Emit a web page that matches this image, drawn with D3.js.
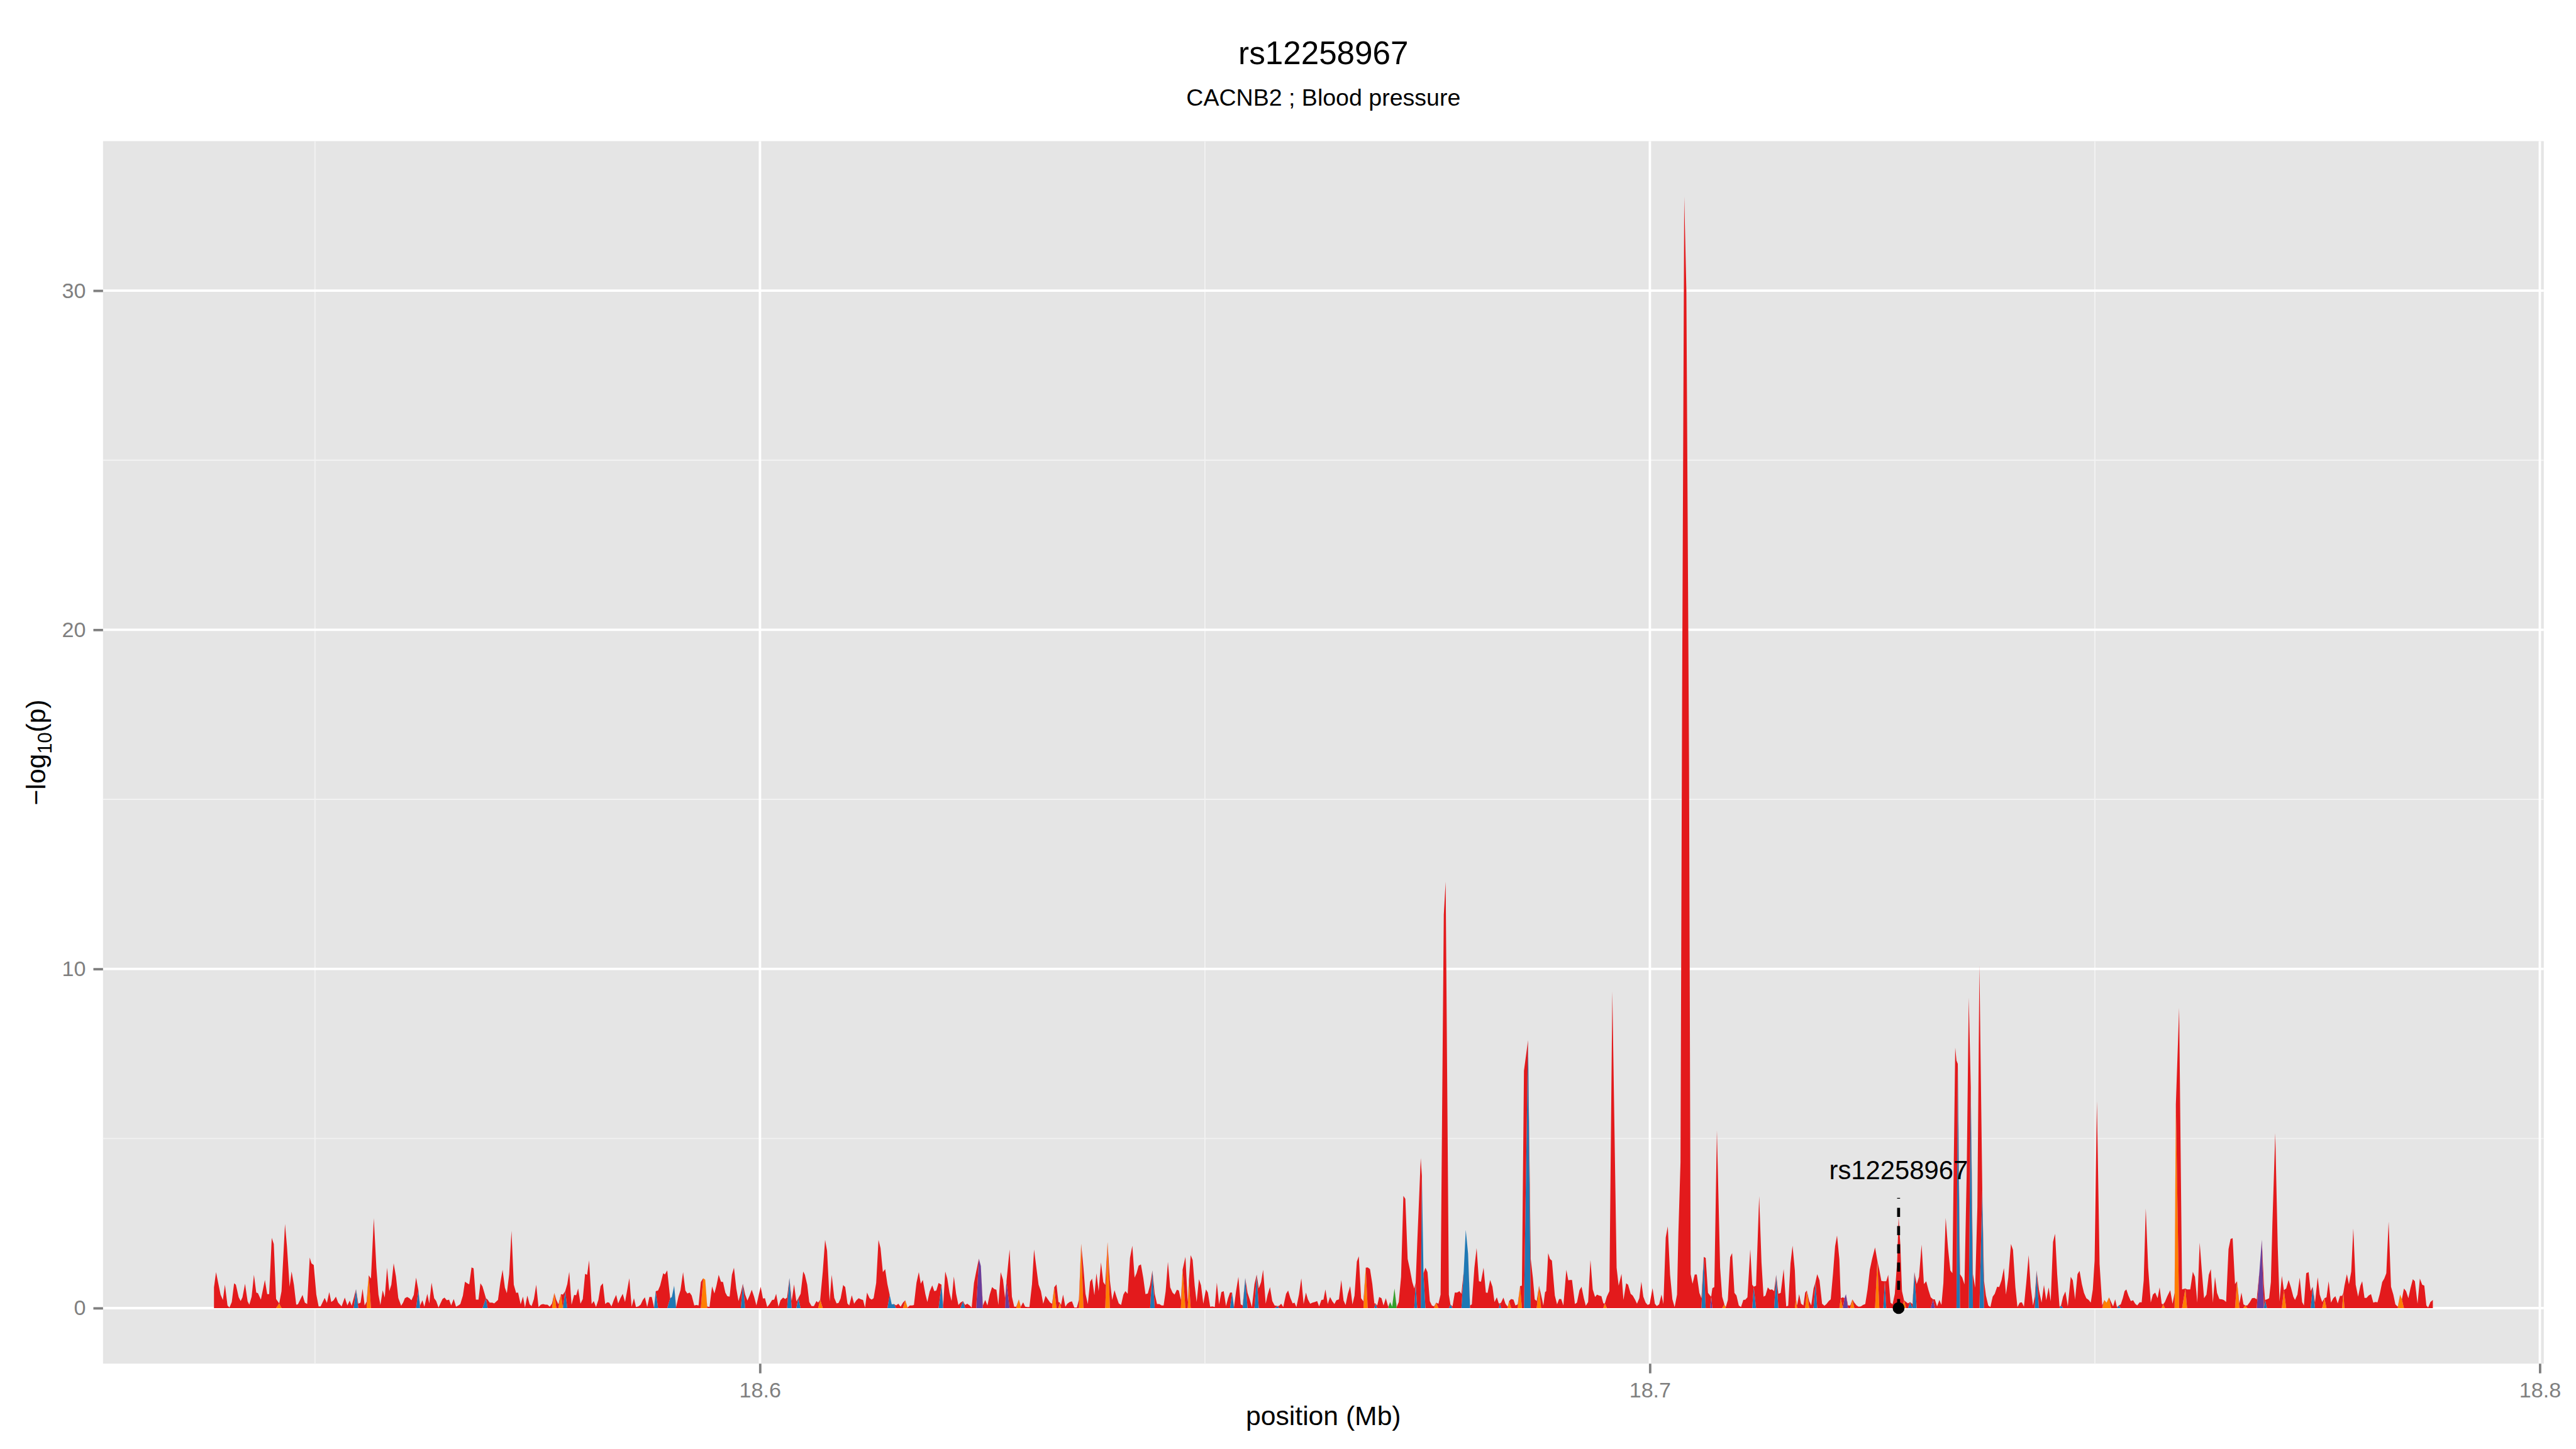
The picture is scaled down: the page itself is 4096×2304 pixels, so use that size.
<!DOCTYPE html>
<html>
<head>
<meta charset="utf-8">
<script src="https://cdn.jsdelivr.net/npm/d3@7"></script>
<style>
  html, body { margin: 0; padding: 0; background: #ffffff; }
  svg { display: block; }
</style>
</head>
<body>
<svg id="chart" width="4096" height="2304" viewBox="0 0 4800 2700"></svg>
<script>
// ---------------- DATA ----------------
const TITLE = "rs12258967";
const SUBTITLE = "CACNB2 ; Blood pressure";
const X_LABEL = "position (Mb)";
const REGION_START_MB = 18.5;          // positions below are kb above this

const leadSnpName = "rs12258967";
const leadSnpMb = 18.727947;
const leadSnpLogP = 0;

// SNP positions (kb above 18.5 Mb)
const posKb = [
38.65,38.88,39.39,39.65,39.88,40.17,40.39,40.65,40.91,41.11,
41.43,41.65,41.85,42.14,42.43,42.62,42.88,43.14,43.40,43.59,
43.92,44.37,44.63,44.85,45.14,45.37,45.63,45.98,46.24,46.63,
46.85,47.15,47.37,47.63,47.89,48.08,48.60,48.86,49.12,49.41,
49.60,49.86,50.15,50.41,50.63,51.09,51.34,51.60,51.83,52.09,
52.35,52.60,52.99,53.35,53.64,53.90,54.12,54.35,54.61,54.87,
55.12,55.35,55.58,55.80,56.03,56.29,56.61,56.90,57.13,57.35,
57.61,57.84,58.10,58.35,58.58,58.84,59.10,59.36,59.68,59.90,
60.10,60.36,60.61,60.84,61.10,61.36,61.62,61.81,62.07,62.29,
62.62,62.84,63.10,63.39,63.62,63.88,64.33,64.55,64.81,65.07,
65.30,65.59,65.85,66.11,66.33,66.62,66.85,67.11,67.33,67.59,
67.82,68.08,68.37,68.59,68.82,69.21,69.40,69.63,69.92,70.14,
70.56,70.82,71.08,71.34,71.56,71.82,72.08,72.34,72.60,72.82,
73.11,73.37,73.60,73.86,74.12,74.34,74.60,74.86,75.12,75.38,
75.63,75.89,76.12,76.38,76.64,76.89,77.12,77.35,77.64,77.86,
78.12,78.35,78.57,78.83,79.12,79.35,79.57,79.83,80.09,80.35,
80.58,80.80,81.09,81.32,81.58,81.84,82.09,82.35,82.61,82.84,
83.06,83.32,83.58,83.84,84.07,84.32,84.58,84.84,85.06,85.32,
85.58,85.84,86.07,86.33,86.59,86.84,87.07,87.33,87.58,87.84,
88.10,
88.29,88.55,88.78,89.13,89.32,89.58,89.91,90.10,90.36,90.58,
90.84,91.07,91.36,91.62,91.84,92.10,92.33,92.62,92.85,93.10,
93.36,93.62,93.85,94.07,94.33,94.62,94.88,95.11,95.36,95.62,
95.85,96.11,96.33,96.59,96.85,97.08,97.34,97.59,97.85,98.08,
98.34,98.59,98.82,99.08,99.34,99.60,99.85,100.08,100.34,100.56,
100.82,101.08,101.37,101.60,101.82,102.08,102.31,102.60,102.83,103.05,
103.31,103.57,103.83,104.09,104.31,104.57,104.86,105.05,105.31,105.54,
105.80,106.06,106.35,106.54,106.77,107.06,107.32,107.54,107.83,108.06,
108.35,108.61,108.83,109.06,109.35,109.58,109.83,110.03,110.32,110.58,
110.84,111.09,111.35,111.58,111.81,112.03,112.32,112.55,112.77,113.06,
113.32,113.55,113.81,114.07,114.32,114.58,114.81,115.07,115.29,115.55,
115.81,116.07,116.33,116.59,116.84,117.10,117.30,117.59,117.85,118.07,
118.30,118.59,118.81,119.07,119.36,119.59,119.82,120.07,120.40,120.59,
120.82,121.05,121.30,121.53,121.79,122.04,122.30,122.53,122.82,123.05,
123.30,123.56,123.79,124.05,124.30,124.60,124.82,125.05,125.31,125.56,
125.82,126.08,126.34,126.57,126.79,127.05,127.31,127.54,127.70,128.05,
128.31,128.57,128.80,129.09,129.31,129.57,129.80,130.05,130.28,130.57,
130.80,131.06,131.31,131.57,131.83,132.09,132.35,132.61,132.83,133.06,
133.32,133.54,133.70,133.83,134.06,134.32,134.54,134.80,135.06,135.32,
135.61,135.84,136.09,136.35,136.58,136.84,137.10,137.32,137.58,137.81,
138.06,
138.32,138.58,138.80,139.06,139.32,139.58,139.84,140.06,140.32,140.58,
140.84,141.06,141.32,141.58,141.84,142.10,142.32,142.55,142.81,143.07,
143.32,143.58,143.84,144.10,144.36,144.62,144.88,145.13,145.36,145.59,
145.84,146.10,146.36,146.59,146.85,147.07,147.30,147.49,147.81,148.07,
148.20,148.40,148.62,148.85,149.07,149.33,149.56,149.82,150.11,150.33,
150.59,150.85,151.11,151.34,151.59,151.85,152.11,152.37,152.60,152.82,
153.05,153.27,153.50,153.76,154.02,154.24,154.53,154.79,155.05,155.28,
155.57,155.82,156.05,156.31,156.54,156.83,157.05,157.31,157.57,157.83,
158.18,158.34,158.57,158.80,159.12,159.35,159.60,159.86,160.06,160.28,
160.57,160.83,161.09,161.35,161.57,161.83,162.09,162.35,162.61,162.83,
163.09,163.32,163.54,163.80,164.06,164.32,164.55,164.77,165.06,165.32,
165.58,165.81,166.06,166.32,166.58,166.81,167.07,167.29,167.55,167.81,
168.07,168.29,168.55,168.81,169.04,169.16,169.36,169.58,169.84,170.07,
170.33,170.59,170.81,171.04,171.30,171.55,171.78,172.04,172.30,172.52,
172.78,173.04,173.30,173.52,173.68,173.85,174.25,174.38,174.56,174.78,175.01,
175.27,175.50,175.75,175.98,176.24,176.48,176.84,177.05,177.41,177.58,
177.82,178.08,178.34,178.60,178.82,179.08,179.31,179.57,179.79,179.99,
180.28,180.53,180.79,181.02,181.31,181.57,181.76,182.05,182.31,182.54,
182.80,183.02,183.15,183.28,183.54,183.77,184.02,184.18,184.41,184.67,
184.89,185.15,185.41,185.62,185.85,186.31,186.61,186.85,187.06,187.28,
187.54,187.77,188.03,188.22,
188.35,188.57,188.77,188.99,189.32,189.57,189.80,190.03,190.28,190.61,
190.83,191.03,191.25,191.58,191.80,192.09,192.32,192.58,192.80,193.06,
193.32,193.58,193.84,194.06,194.29,194.55,194.77,194.94,195.16,195.45,
195.78,196.26,196.49,196.81,197.03,197.33,197.55,197.84,198.07,198.33,
198.55,198.81,199.04,199.26,199.52,199.75,199.97,200.30,200.56,200.78,
201.04,201.30,201.52,201.78,202.01,202.27,202.53,202.78,203.05,203.20,
203.44,203.62,203.86,204.10,204.40,204.58,204.79,205.04,205.27,205.56,
205.79,206.05,206.27,206.53,206.76,206.89,207.02,207.24,207.53,207.89,
208.12,208.37,208.53,208.76,209.02,209.24,209.50,209.73,209.99,210.24,
210.50,210.73,210.96,211.28,211.50,211.67,211.93,212.28,212.54,212.77,
212.99,213.25,213.48,213.73,213.96,214.19,214.44,214.70,215.03,215.32,
215.54,215.80,216.03,216.29,216.41,216.54,216.77,216.99,217.25,217.45,
217.64,217.90,218.13,218.39,218.61,218.80,219.06,219.35,219.61,219.84,
220.10,220.32,220.58,220.81,221.03,221.29,221.45,221.68,221.87,222.03,
222.26,222.52,222.75,222.97,223.23,223.46,223.71,223.94,224.20,224.46,
224.71,224.97,225.30,225.56,225.78,226.01,226.23,226.40,226.56,226.78,
227.04,227.27,227.52,227.78,227.95,228.14,228.33,228.56,228.79,229.01,
229.24,229.50,229.72,229.98,230.24,230.53,230.79,231.05,231.31,231.56,
231.82,232.02,232.27,232.53,232.76,232.98,233.24,233.50,233.76,233.99,
234.31,234.45,234.60,234.85,235.10,235.35,235.60,235.83,236.06,236.30,
236.55,236.80,237.03,237.35,237.55,
237.76,238.02,238.26,238.52,238.75,239.02,239.25,239.51,239.78,240.01,
240.27,240.57,240.80,241.07,241.30,241.56,241.80,242.03,242.29,242.56,
242.79,243.05,243.25,243.45,243.71,244.01,244.28,244.54,244.81,245.04,
245.30,245.53,245.77,246.03,246.20,246.43,246.69,246.96,247.29,247.52,
247.78,248.05,248.28,248.54,248.78,249.04,249.31,249.54,249.77,249.97,
250.23,250.53,250.83,251.06,251.32,251.59,251.82,252.05,252.28,252.48,
252.68,252.91,253.14,253.34,253.54,253.77,254.04,254.30,254.53,254.76,
255.03,255.26,255.49,255.72,255.99,256.28,256.52,256.78,257.05,257.28,
257.51,257.67,257.87,258.14,258.47,258.73,258.96,259.10,259.47,259.80,
260.17,260.36,260.72,261.01,261.25,261.51,261.78,262.01,262.27,262.54,
262.80,263.03,263.26,263.50,263.73,263.99,264.26,264.49,264.75,265.02,
265.25,265.48,265.75,265.98,266.24,266.47,266.70,266.90,267.13,267.40,
267.66,267.93,268.19,268.49,268.76,268.99,269.12,269.35,269.58,269.78,
269.95,270.27,270.55,270.75,271.01,271.24,271.50,271.77,272.03,272.30,
272.49,272.76,273.02,273.29,273.49,273.75,274.02,274.25,274.48,274.74,
275.04,275.27,275.54,275.80,276.03,276.27,276.53,276.79,277.03,277.29,
277.55,277.78,277.92,278.05,278.32,278.55,278.81,279.04,279.31,279.58,
279.84,280.04,280.30,280.53,280.76,281.03,281.29,281.52,281.76,282.02,
282.29,282.52,282.75,283.01,283.28,283.54,283.77,284.04,284.30,284.50,
284.73,284.97,285.23,285.46,285.73,285.96,286.26,286.52,286.78,287.02,
287.25,287.45,287.71,287.98
];

// -log10(p) for each SNP above
const logP = [
.61,1.06,.40,.24,.69,.08,.02,.18,.73,.69,
.32,.21,.32,.72,.20,.10,.34,.98,.46,.44,
.25,.83,.41,.41,2.07,1.89,.27,.14,.50,2.48,
1.82,.63,1.08,.69,.10,.11,.39,.16,.12,1.49,
1.32,1.27,.40,.05,.05,.30,.15,.47,.18,.23,
.34,.16,.05,.31,.08,.22,.07,.29,.56,.13,
.16,.57,.08,.19,.97,.87,2.65,1.19,.40,.09,
.53,.31,1.19,.50,.69,1.32,.93,.30,.07,.16,
.29,.33,.29,.23,.39,.90,.53,.08,.23,.04,
.42,.14,.75,.29,.21,.02,.27,.31,.23,.25,
.08,.27,.04,.08,.12,.37,.78,.73,.70,1.20,
1.17,.25,.25,.73,.64,.29,.25,.16,.16,.14,
.24,.74,1.13,.60,.44,1.00,2.28,.69,.45,.46,
.11,.34,.02,.37,.11,.06,.27,.69,.03,.10,
.12,.10,.10,.04,.14,.45,.24,.11,.41,.40,
.50,.71,1.07,.10,.39,.38,.58,.13,.27,1.01,
.98,1.41,.12,.21,.03,.24,.65,.73,.12,.17,
.16,.05,.24,.39,.14,.29,.42,.18,.50,.88,
.04,.29,.03,.05,.10,.24,.32,.03,.33,.33,
.02,
.50,.52,.66,1.03,.99,1.11,.29,.33,.66,.03,
.34,.53,1.06,.52,.43,.46,.37,.08,.09,.08,
.77,.88,.84,.05,.03,.64,.43,.66,.98,.78,
.77,.46,.35,.34,.98,1.19,.58,.21,.45,.72,
.40,.22,.36,.54,.34,.08,.37,.63,.28,.29,
.03,.12,.24,.25,.42,.04,.23,.31,.27,.31,
.89,.21,.70,.20,.29,.42,1.08,.98,.69,.18,
.06,.06,.21,.16,.25,1.08,2.01,1.69,.20,.98,
.30,.14,.15,.28,.68,.62,.14,.08,.38,.13,
.23,.29,.26,.24,.02,.46,.29,.25,.29,.74,
2.01,1.77,1.06,1.15,.71,.39,.11,.12,.08,.13,
.04,.16,.23,.02,.08,.08,.09,.75,1.06,.72,
.83,.41,.18,.49,.67,.50,.52,.74,.69,.08,
1.08,.87,.45,.21,.93,.42,.09,.16,.21,.09,
.13,.08,.02,.74,1.08,1.46,1.24,.08,.24,.08,
.40,.62,.56,.54,.09,1.06,.84,.29,.79,1.73,
.34,.04,.04,.26,.04,.17,.04,.03,.03,.71,
1.73,1.19,.69,.50,.13,.36,.26,.16,.13,.61,
.70,.18,.16,.09,.40,.04,.13,.18,.20,.02,
.02,.24,1.90,1.19,.42,.12,.78,.87,.38,1.03,
.50,
1.35,.77,.68,1.95,.82,.24,.53,.34,.14,.09,
.40,.50,.42,1.48,1.84,.90,1.03,1.25,1.29,.90,
.41,.43,.68,1.11,.42,.12,.12,.08,.08,.50,
1.36,.61,.46,.40,.54,.52,.24,1.13,1.51,.18,
.82,1.56,1.42,.66,.18,.85,.67,.13,.55,.46,
.04,.05,.03,.75,.11,.47,.50,.06,.29,.46,
.46,.03,.50,.92,.11,.08,.89,.45,.24,.03,
.71,.99,.58,.77,1.13,.13,.40,.62,.21,.08,
.06,.07,.13,.03,.42,.52,.30,.14,.16,.03,
.40,.88,.12,.46,.26,.13,.16,.18,.21,.05,
.24,.25,.55,.12,.33,.20,.12,.23,.26,.83,
.22,.09,.42,.65,.11,.37,1.37,1.53,.29,.20,
1.19,1.20,1.15,.71,.14,.14,.08,.33,.29,.08,
.29,.04,.18,.04,.58,.03,.18,.92,3.31,3.22,
1.45,1.13,.77,.58,.74,1.87,4.42,3.9,1.03,1.19,1.06,
.21,.08,.05,.16,.13,.40,11.6,12.57,.40,.11,
.05,.46,.46,.50,.42,1.08,2.31,1.61,.08,.11,
1.19,1.77,.79,.78,1.19,.46,.45,.83,.63,.18,
.32,.14,.14,.16,.31,.13,.04,.21,.27,.25,
.08,.11,.65,.66,7.0,7.9,1.45,.90,.26,.21,
.66,.40,.08,.47,
.50,1.62,1.45,1.40,.37,.11,.27,.27,.08,1.13,
.82,.83,.83,.12,.16,.53,.63,.29,.07,.18,
1.42,.55,.33,.40,.37,.35,.14,.14,.34,.50,
9.34,1.19,.66,1.01,.24,.73,.69,.42,.37,.25,
.13,.29,.78,.34,.16,.09,.12,.59,.13,.06,
.11,.40,.12,2.08,2.41,.98,.26,.03,.40,2.2,
4.3,18.0,32.77,30.0,16.0,1.0,.72,.99,.99,.45,
.29,1.51,1.48,.45,.37,.34,.59,.62,5.24,1.20,
.34,.11,.03,.24,1.50,1.62,.45,.37,.08,.03,
.24,.25,.32,1.74,.69,.63,.66,3.30,1.35,.34,
.37,.61,.54,.55,.50,.98,.42,.45,1.15,.05,
.07,1.32,1.84,1.11,.29,.08,.41,.13,.08,.46,
.52,.21,.08,.58,.77,1.00,.82,.13,.07,.12,
.21,.26,1.03,1.82,2.14,1.44,.29,.32,.29,.41,
.08,.08,.26,.16,.08,.04,.05,.09,.12,.55,
1.13,1.45,1.79,1.40,1.13,.80,.79,.79,.79,.98,
.16,.11,.42,1.35,2.69,1.87,.50,.23,.18,.14,
.18,.12,1.06,.71,.92,1.87,.71,.79,.53,.32,
.26,.26,.05,.24,.09,.74,2.66,1.77,1.11,1.03,
7.68,7.3,7.2,1.00,.90,.70,4.0,9.15,6.5,1.00,
.60,3.0,10.1,3.5,.80,
.37,.08,.03,.34,.42,.63,.62,.82,1.18,.40,
.90,1.89,1.72,.61,.03,.16,.17,.04,.74,1.56,
.63,.08,.34,1.11,.55,.16,.68,.23,.61,.20,
1.95,2.19,.98,.04,.08,.34,.49,.05,.92,.82,
.26,1.00,1.10,.71,.45,.29,.24,.16,.55,1.40,
6.10,1.30,.08,.24,.16,.32,.18,.05,.26,.03,
.08,.11,.29,.50,.55,.37,.21,.23,.13,.08,
.17,.17,.82,2.94,1.19,.16,.40,.46,.29,.61,
.13,.11,.18,.35,.53,.13,.45,6.0,8.85,.55,
.58,.55,.55,1.07,.92,.16,1.93,1.13,.29,.40,
.98,1.15,.16,.92,.45,.27,.26,.24,.18,1.74,
2.04,2.06,.71,.79,.13,.46,.11,.08,.08,.17,
.29,.30,.26,1.08,2.02,.71,.24,.26,.29,.77,
2.50,5.16,1.80,.20,.95,.53,.58,.83,.61,.34,
.24,.40,.90,.18,.08,1.03,1.06,.50,.63,.16,
.91,.40,.18,.29,.32,.79,.16,.29,.35,.14,
.36,.36,.45,.66,1.00,.70,1.08,2.35,.69,.34,
.66,.79,.30,.30,.37,.41,.16,.18,.17,.42,
.77,.87,1.03,2.55,.63,.40,.11,.04,.40,.26,
.58,.50,.29,.58,.85,.79,.13,.87,.69,.66,
.08,.02,.18,.24
];

// SNPs (kb above 18.5 Mb) that belong to the non-red annotation classes
const orangeKb = [45.98,56.03,76.89,77.64,93.62,93.85,106.77,116.33,129.09,133.06,133.70,136.09,139.06,147.49,148.20,168.07,175.98,184.18,185.41,187.54,194.94,208.37,216.41,217.64,221.45,222.75,225.56,228.56,251.06,251.32,251.59,257.67,259.10,260.17,265.98,266.90,271.24,275.80,277.92,284.30,284.50];
const blueKb = [54.61,61.62,69.21,78.12,88.29,89.91,90.10,90.36,98.08,103.31,104.31,114.58,114.81,115.07,120.40,122.82,144.10,153.05,154.53,155.82,158.18,169.16,173.68,174.38,174.56,177.58,179.08,179.31,179.57,183.15,186.31,206.05,211.67,214.19,218.61,226.40,229.24,229.72,234.60,236.06,237.35,243.45,246.20,252.68,269.12,274.48];
const purpleKb = [124.60,124.82,127.70,206.89,221.87,222.03,231.82,268.49,268.76];
const greenKb = [170.81,171.04,171.30];

// stacking order: bottom first
const categories = ["orange", "purple", "green", "blue", "red"];
const categoryColors = ["#FF7F00", "#6A3D9A", "#33A02C", "#1F78B4", "#E31A1C"];

const xTicks = [18.6, 18.7, 18.8];
const xMinorTicks = [18.55, 18.65, 18.75];
const yTicks = [0, 10, 20, 30];
const yMinorTicks = [5, 15, 25];

// ---------------- LAYOUT ----------------
const FONT = "'Liberation Sans', Arial, Helvetica, sans-serif";
const panel = { left: 192, right: 4740, top: 263, bottom: 2541 };
const svg = d3.select("#chart");

if (posKb.length !== logP.length) console.error("length mismatch", posKb.length, logP.length);

const posMb = posKb.map(k => REGION_START_MB + k / 1000);
const catOf = new Map();
[[orangeKb, "orange"], [blueKb, "blue"], [purpleKb, "purple"], [greenKb, "green"]]
  .forEach(([arr, c]) => arr.forEach(k => catOf.set(k.toFixed(2), c)));

const rows = posKb.map((k, i) => {
  const c = catOf.get(k.toFixed(2)) || "red";
  const r = { x: posMb[i] };
  categories.forEach(cc => { r[cc] = (cc === c) ? logP[i] : 0; });
  return r;
});

const xExt = d3.extent(posMb);
const xPad = (xExt[1] - xExt[0]) * 0.05;
const x = d3.scaleLinear().domain([xExt[0] - xPad, xExt[1] + xPad]).range([panel.left, panel.right]);
const yMax = d3.max(logP);
const yPad = (yMax - 0) * 0.05;
const y = d3.scaleLinear().domain([0 - yPad, yMax + yPad]).range([panel.bottom, panel.top]);

// background
svg.append("rect").attr("x", 0).attr("y", 0).attr("width", 4800).attr("height", 2700).attr("fill", "#ffffff");
svg.append("rect")
  .attr("x", panel.left).attr("y", panel.top)
  .attr("width", panel.right - panel.left).attr("height", panel.bottom - panel.top)
  .attr("fill", "#E5E5E5");

// grid
const grid = svg.append("g");
grid.selectAll(".xminor").data(xMinorTicks).enter().append("line")
  .attr("x1", d => x(d)).attr("x2", d => x(d)).attr("y1", panel.top).attr("y2", panel.bottom)
  .attr("stroke", "#F2F2F2").attr("stroke-width", 2.2);
grid.selectAll(".yminor").data(yMinorTicks).enter().append("line")
  .attr("y1", d => y(d)).attr("y2", d => y(d)).attr("x1", panel.left).attr("x2", panel.right)
  .attr("stroke", "#F2F2F2").attr("stroke-width", 2.2);
grid.selectAll(".xmajor").data(xTicks).enter().append("line")
  .attr("x1", d => x(d)).attr("x2", d => x(d)).attr("y1", panel.top).attr("y2", panel.bottom)
  .attr("stroke", "#FFFFFF").attr("stroke-width", 4.5);
grid.selectAll(".ymajor").data(yTicks).enter().append("line")
  .attr("y1", d => y(d)).attr("y2", d => y(d)).attr("x1", panel.left).attr("x2", panel.right)
  .attr("stroke", "#FFFFFF").attr("stroke-width", 4.5);

// stacked areas
const stack = d3.stack().keys(categories).order(d3.stackOrderNone).offset(d3.stackOffsetNone);
const series = stack(rows);
const area = d3.area()
  .x(d => x(d.data.x))
  .y0(d => y(d[0]))
  .y1(d => y(d[1]))
  .curve(d3.curveLinear);
svg.append("g").selectAll("path").data(series).enter().append("path")
  .attr("d", area)
  .attr("fill", (d, i) => categoryColors[i])
  .attr("stroke", "none");

// lead SNP marker
const segTopValue = 3.25;
svg.append("line")
  .attr("x1", x(leadSnpMb)).attr("x2", x(leadSnpMb))
  .attr("y1", y(leadSnpLogP)).attr("y2", y(segTopValue))
  .attr("stroke", "#000").attr("stroke-width", 5.5)
  .attr("stroke-dasharray", "17,17");
svg.append("circle")
  .attr("cx", x(leadSnpMb)).attr("cy", y(leadSnpLogP)).attr("r", 11)
  .attr("fill", "#000");
svg.append("text")
  .attr("x", x(leadSnpMb)).attr("y", y(3.80))
  .attr("text-anchor", "middle")
  .attr("font-family", FONT).attr("font-size", 49).attr("fill", "#000")
  .text(leadSnpName);

// axes
const yAxis = d3.axisLeft(y).tickValues(yTicks).tickSize(18).tickPadding(14).tickFormat(d3.format("d"));
const gy = svg.append("g").attr("transform", `translate(${panel.left},0)`).call(yAxis);
const xAxis = d3.axisBottom(x).tickValues(xTicks).tickSize(18).tickPadding(16).tickFormat(d3.format(".1f"));
const gx = svg.append("g").attr("transform", `translate(0,${panel.bottom})`).call(xAxis);
[gx, gy].forEach(g => {
  g.select(".domain").remove();
  g.selectAll(".tick line").attr("stroke", "#7F7F7F").attr("stroke-width", 4.5);
  g.selectAll(".tick text").attr("fill", "#7F7F7F").attr("font-size", 40).attr("font-family", FONT);
});

// titles
const cx = (panel.left + panel.right) / 2;
svg.append("text").attr("x", cx).attr("y", 119).attr("text-anchor", "middle")
  .attr("font-family", FONT).attr("font-size", 60).attr("fill", "#000").text(TITLE);
svg.append("text").attr("x", cx).attr("y", 197).attr("text-anchor", "middle")
  .attr("font-family", FONT).attr("font-size", 44).attr("fill", "#000").text(SUBTITLE);
svg.append("text").attr("x", cx).attr("y", 2655).attr("text-anchor", "middle")
  .attr("font-family", FONT).attr("font-size", 50).attr("fill", "#000").text(X_LABEL);

const yl = svg.append("text")
  .attr("transform", `translate(84,${(panel.top + panel.bottom) / 2}) rotate(-90)`)
  .attr("text-anchor", "middle")
  .attr("font-family", FONT).attr("font-size", 50).attr("fill", "#000");
yl.append("tspan").text("\u2212log");
yl.append("tspan").attr("font-size", 36).attr("dy", 12).text("10");
yl.append("tspan").attr("dy", -12).text("(p)");
</script>
</body>
</html>
